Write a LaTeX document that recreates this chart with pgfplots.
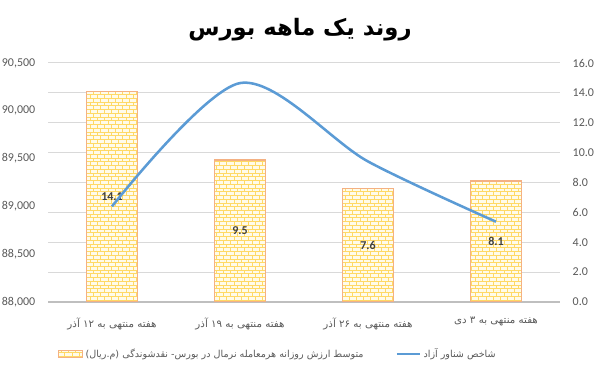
\documentclass[border=0pt]{standalone}
\usepackage{fontspec}
\setmainfont{Carlito}
\usepackage{pgfplots}
\pgfplotsset{compat=1.18}
\usetikzlibrary{patterns}
\TeXXeTstate=1
\newfontfamily\arabicfont[Script=Arabic]{DejaVu Sans}
\definecolor{gridgray}{HTML}{D9D9D9}
\definecolor{txtgray}{HTML}{595959}
\definecolor{lblgray}{HTML}{404040}
\definecolor{lineblue}{HTML}{5B9BD5}
\definecolor{brickline}{HTML}{FFD966}
\definecolor{brickfill}{HTML}{FFFBEA}
\definecolor{brickedge}{HTML}{F4B183}
\definecolor{axisgray}{HTML}{BFBFBF}

\pgfdeclarepatternformonly{mybricks}{\pgfqpoint{-0.5pt}{-0.5pt}}{\pgfqpoint{6pt}{6pt}}{\pgfqpoint{5.4pt}{5.6pt}}{%
  \pgfsetlinewidth{0.65pt}%
  \pgfpathmoveto{\pgfqpoint{0pt}{0pt}}\pgfpathlineto{\pgfqpoint{5.4pt}{0pt}}%
  \pgfpathmoveto{\pgfqpoint{0pt}{2.8pt}}\pgfpathlineto{\pgfqpoint{5.4pt}{2.8pt}}%
  \pgfpathmoveto{\pgfqpoint{0pt}{0pt}}\pgfpathlineto{\pgfqpoint{0pt}{2.8pt}}%
  \pgfpathmoveto{\pgfqpoint{2.7pt}{2.8pt}}\pgfpathlineto{\pgfqpoint{2.7pt}{5.6pt}}%
  \pgfusepath{stroke}}

\tikzset{bricksty/.style={preaction={fill=brickfill}, pattern=mybricks, pattern color=brickline, draw=brickedge, line width=1.1pt}}

\begin{document}
\begin{tikzpicture}[x=1pt,y=1pt]
\path[use as bounding box] (-36,-51.75) rectangle (414,226.5);
\node[font=\arabicfont\bfseries\fontsize{17}{20}\selectfont, text=black] at (189,204) {\beginR روند یک ماهه بورس\endR};

% bars (right axis)
\begin{axis}[
  at={(0,0)}, anchor=south west, scale only axis,
  width=384pt, height=179.25pt,
  xmin=-0.5, xmax=3.5, ymin=0, ymax=16,
  ytick={0,2,...,16},
  xtick={0,1,2,3},
  xticklabels={
    {\arabicfont\beginR هفته منتهی به ۱۲ آذر\endR},
    {\arabicfont\beginR هفته منتهی به ۱۹ آذر\endR},
    {\arabicfont\beginR هفته منتهی به ۲۶ آذر\endR},
    {\arabicfont\beginR هفته منتهی به ۳ دی\endR}},
  axis x line*=bottom, axis y line*=right,
  x axis line style={draw=axisgray, line width=1.5pt},
  y axis line style={draw=none},
  major tick length=0,
  ymajorgrids, grid style={draw=gridgray, line width=0.75pt},
  xticklabel style={font=\arabicfont\fontsize{7.7}{10}\selectfont, text=txtgray, yshift=-8pt},
  yticklabel style={font=\fontsize{9}{10}\selectfont, text=txtgray, xshift=6pt},
  legend style={at={(0.888,-0.218)}, anchor=east, draw=none, fill=none,
    legend columns=2, font=\arabicfont\fontsize{7.2}{10}\selectfont, text=txtgray,
    /tikz/every even column/.append style={column sep=22pt}},
  /pgf/number format/.cd, fixed, fixed zerofill, precision=1, assume math mode=true
]
\addplot[ybar, bar width=0.4, bar shift=0pt, bricksty,
  legend image code/.code={\draw[bricksty, line width=0.8pt] (0pt,-2.6pt) rectangle (18pt,2.6pt);}]
  coordinates {(0,14.1) (1,9.5) (2,7.6) (3,8.1)};
\addlegendentry{\arabicfont\beginR متوسط ارزش روزانه هرمعامله نرمال در بورس- نقدشوندگی (م.ریال)\endR}
\addlegendimage{lineblue, line width=1.9pt, line legend}
\addlegendentry{\arabicfont\beginR شاخص شناور آزاد\endR}
\addplot[draw=none, mark=none, forget plot, nodes near coords, point meta=explicit symbolic,
  every node near coord/.append style={anchor=center, font=\bfseries\fontsize{9}{10}\selectfont, text=lblgray}]
  coordinates {(0,7.05) [14.1] (1,4.75) [9.5] (2,3.8) [7.6] (3,4.05) [8.1]};
\end{axis}

% line (left axis)
\begin{axis}[
  at={(0,0)}, anchor=south west, scale only axis,
  width=384pt, height=179.25pt,
  xmin=-0.5, xmax=3.5, ymin=88000, ymax=90500,
  ytick={88000,88500,90000,89000,89500,90500},
  xtick=\empty,
  axis line style={draw=none},
  major tick length=0,
  scaled y ticks=false,
  yticklabel style={font=\fontsize{9}{10}\selectfont, text=txtgray, xshift=-6pt},
  /pgf/number format/.cd, fixed, 1000 sep={,}, assume math mode=true
]
\addplot[lineblue, line width=1.9pt, smooth, tension=0.5]
  coordinates {(0,89000) (1,90290) (2,89470) (3,88840)};
\end{axis}
\end{tikzpicture}
\end{document}
